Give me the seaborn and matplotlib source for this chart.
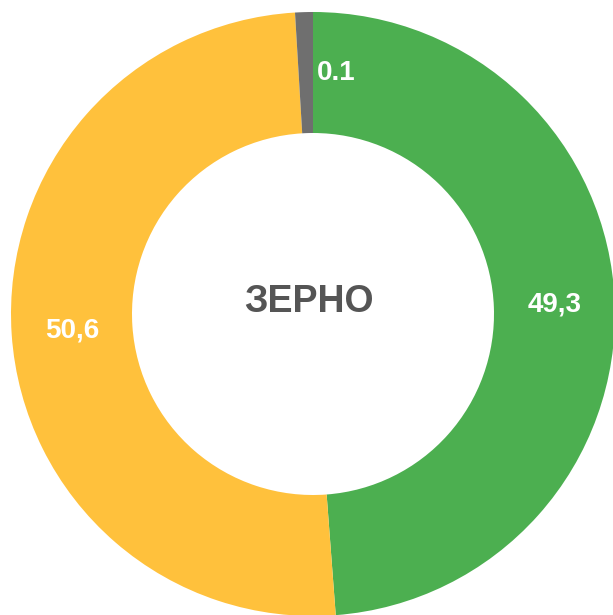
import numpy as np
import matplotlib
matplotlib.use("agg")
import matplotlib.pyplot as plt
import seaborn as sns

# slices clockwise from 12 o'clock (shares as drawn in the picture)
segments = ["green", "yellow", "gray"]
shares = [48.8, 50.25, 0.95]
labels = ["49,3", "50,6", "0.1"]
colors = ["#4CAF50", "#FFC13C", "#6F6F6F"]
center_title = "ЗЕРНО"

sns.set_theme(style="white")
plt.rcParams["font.family"] = ["Liberation Sans", "DejaVu Sans"]

fig = plt.figure(figsize=(6.13, 6.15), dpi=100)
ax = fig.add_axes([0, 0, 1, 1])

cx, cy = 313, 301
r_out, r_in = 302, 181

wedges, _ = ax.pie(shares, colors=colors, startangle=90, counterclock=False,
                   radius=r_out, center=(cx, cy), frame=True,
                   wedgeprops=dict(width=r_out - r_in, linewidth=0))
ax.set_xlim(0, 613)
ax.set_ylim(0, 615)
ax.set_aspect("equal")
ax.axis("off")

r_mid = (r_out + r_in) / 2
for w, lab in zip(wedges, labels):
    mid = np.deg2rad((w.theta1 + w.theta2) / 2)
    x = cx + r_mid * np.cos(mid)
    y = cy + r_mid * np.sin(mid)
    if w.theta2 - w.theta1 < 5:
        # tiny slice: label sits just right of it
        ax.text(cx + 4, y, lab, ha="left", va="center", color="white",
                fontsize=20, fontweight="bold")
    else:
        ax.text(x, y, lab, ha="center", va="center", color="white",
                fontsize=20, fontweight="bold")

ax.text(cx - 4, cy + 12, center_title, ha="center", va="center",
        color="#555555", fontsize=27, fontweight="bold")

fig.savefig("out.png", dpi=100)
